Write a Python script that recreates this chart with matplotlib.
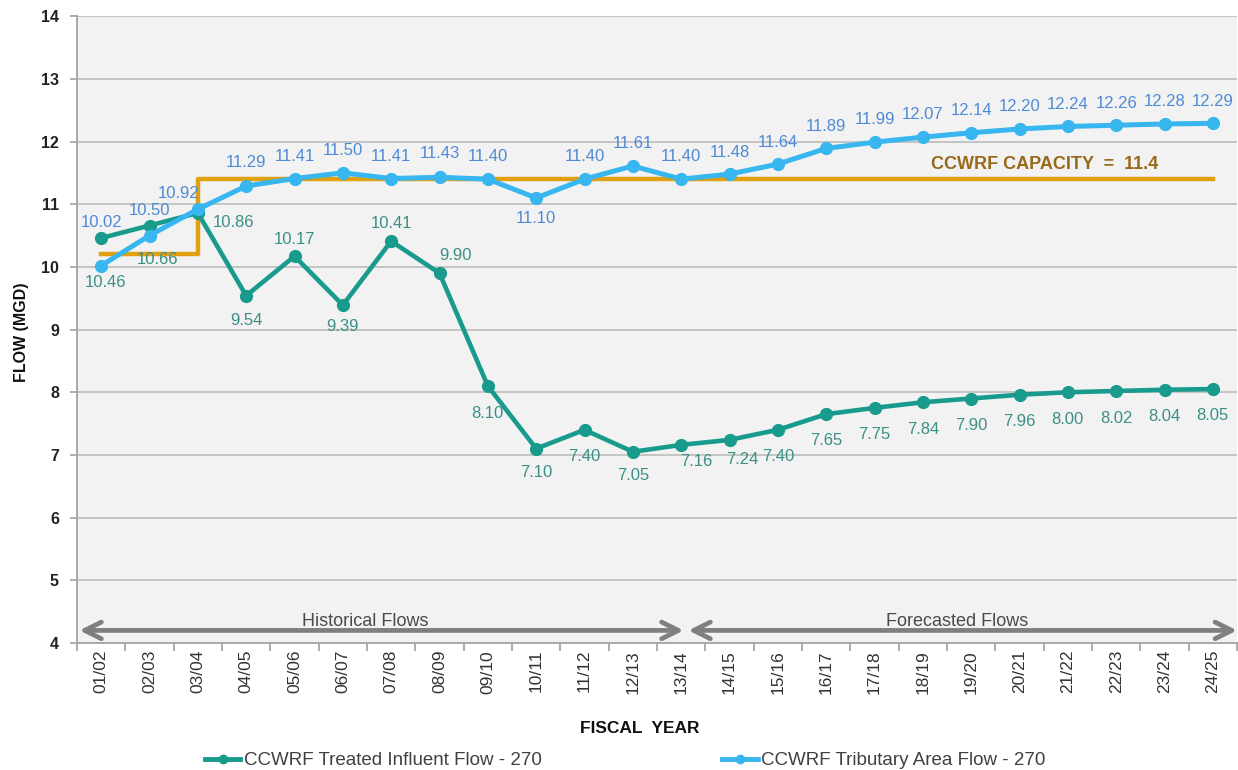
import matplotlib.pyplot as plt
from matplotlib.lines import Line2D

plt.rcParams['font.family'] = ['Liberation Sans', 'DejaVu Sans']

years = ['01/02', '02/03', '03/04', '04/05', '05/06', '06/07', '07/08', '08/09',
         '09/10', '10/11', '11/12', '12/13', '13/14', '14/15', '15/16', '16/17',
         '17/18', '18/19', '19/20', '20/21', '21/22', '22/23', '23/24', '24/25']

treated = [10.46, 10.66, 10.86, 9.54, 10.17, 9.39, 10.41, 9.90, 8.10, 7.10, 7.40, 7.05,
           7.16, 7.24, 7.40, 7.65, 7.75, 7.84, 7.90, 7.96, 8.00, 8.02, 8.04, 8.05]
tributary = [10.02, 10.50, 10.92, 11.29, 11.41, 11.50, 11.41, 11.43, 11.40, 11.10, 11.40, 11.61,
             11.40, 11.48, 11.64, 11.89, 11.99, 12.07, 12.14, 12.20, 12.24, 12.26, 12.28, 12.29]
capacity = [10.2, 10.2] + [11.4] * 22

# label placement (dx, dy in points)
treated_off = [(3, -32), (6, -24.5), (26, -6.5), (0, -17.5), (0, 12), (0, -15.5), (0, 12.5), (11.5, 12.5),
               (0, -20), (0, -17), (0, -19), (0, -17), (11, -12), (9, -14), (0, -19), (0, -19),
               (0, -19.5), (0, -19.5), (0, -19.5), (0, -19.5), (0, -19.5), (0, -19.5), (0, -19.5), (0, -19)]
trib_off = [(0, 31), (0, 18), (-14, 11), (0, 17), (0, 16), (0, 16), (0, 16), (0, 17),
            (0, 16), (0, -15), (0, 16), (0, 16), (0, 16), (0, 15.5), (0, 15.5), (0, 16),
            (0, 16), (0, 16), (0, 16), (0, 16), (0, 16), (0, 16), (0, 16), (0, 16)]

teal = '#189b8c'
blue = '#38b6f0'
gold = '#e0a010'

fig = plt.figure(figsize=(12.38, 7.70), dpi=100)
ax = fig.add_axes([0.0622, 0.165, 0.937, 0.814])
ax.set_facecolor('#f2f2f2')

x = list(range(len(years)))
ax.plot(x, capacity, drawstyle='steps-post', color=gold, lw=3.2, zorder=3)
ax.plot(x, treated, '-o', color=teal, lw=3.3, ms=8.5, zorder=4)
ax.plot(x, tributary, '-o', color=blue, lw=3.6, ms=8.5, zorder=5)

for i in x:
    ax.annotate(f'{treated[i]:.2f}', (i, treated[i]), xytext=treated_off[i],
                textcoords='offset points', ha='center', va='center',
                fontsize=12, color='#3b8f86', zorder=6)
    ax.annotate(f'{tributary[i]:.2f}', (i, tributary[i]), xytext=trib_off[i],
                textcoords='offset points', ha='center', va='center',
                fontsize=12, color='#4f8ad6', zorder=6)

ax.text(19.52, 11.64, 'CCWRF CAPACITY  =  11.4', ha='center', va='center',
        fontsize=13, fontweight='bold', color='#98691a')

# historical / forecast arrows
arr = dict(arrowstyle='<->', color='#7f7f7f', lw=3.4, mutation_scale=30, shrinkA=0, shrinkB=0)
ax.annotate('', xy=(-0.45, 4.2), xytext=(12.05, 4.2), arrowprops=arr, zorder=2)
ax.annotate('', xy=(12.15, 4.2), xytext=(23.5, 4.2), arrowprops=arr, zorder=2)
ax.text(5.47, 4.34, 'Historical Flows', ha='center', va='center', fontsize=13, color='#4a4a4a')
ax.text(17.7, 4.34, 'Forecasted Flows', ha='center', va='center', fontsize=13, color='#4a4a4a')

ax.set_xlim(-0.5, 23.5)
ax.set_ylim(4, 14)
ax.set_yticks(range(4, 15))
ax.yaxis.grid(True, color='#c4c4c4', lw=1.4)
ax.set_axisbelow(True)
ax.set_xticks(x)
ax.set_xticklabels(years, rotation=90, fontsize=12.5, color='#333333')
ax.set_xticks([i - 0.5 for i in range(25)], minor=True)
ax.tick_params(axis='x', which='major', length=0, pad=5)
ax.tick_params(axis='x', which='minor', length=6, color='#a0a0a0', width=1.2)
ax.tick_params(axis='y', length=5, color='#a0a0a0', width=1.2, pad=8)
for lab in ax.get_yticklabels():
    lab.set_fontweight('bold')
    lab.set_fontsize(11.5)
    lab.set_color('#222222')

for s in ['top', 'right']:
    ax.spines[s].set_visible(False)
for s in ['left', 'bottom']:
    ax.spines[s].set_color('#a8a8a8')
    ax.spines[s].set_linewidth(1.4)

fig.text(0.017, 0.569, 'FLOW (MGD)', rotation=90, ha='center', va='center',
         fontsize=11.5, fontweight='bold', color='#111111')
fig.text(0.517, 0.0545, 'FISCAL  YEAR', ha='center', va='center',
         fontsize=12.5, fontweight='bold', color='#111111')

handles = [Line2D([], [], color=teal, lw=3.5, marker='o', ms=6),
           Line2D([], [], color=blue, lw=3.5, marker='o', ms=6)]
fig.legend(handles, ['CCWRF Treated Influent Flow - 270', 'CCWRF Tributary Area Flow - 270'],
           loc='center', bbox_to_anchor=(0.505, 0.012), ncol=2, frameon=False,
           fontsize=13.5, handlelength=1.9, handletextpad=0.2, columnspacing=9.6,
           labelcolor='#404040')

fig.savefig('out.png', dpi=100)
